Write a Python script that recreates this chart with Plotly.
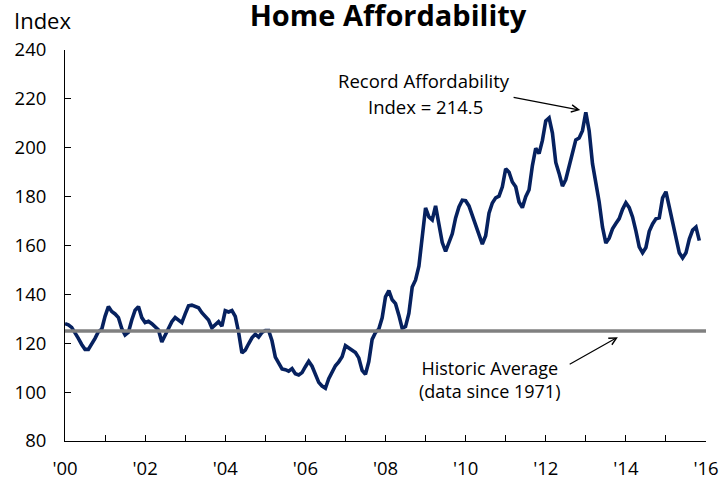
import plotly.graph_objects as go

# Monthly Home Affordability Index, Jan 2000 - Nov 2015
start_year = 2000
index_values = [
    # 2000
    128, 127.5, 126.5, 124.5, 122, 119.5, 117.5, 117.5, 119.5, 122, 124.7, 125.7,
    # 2001
    131, 135, 133, 132, 130.5, 126, 123.4, 124.5, 129.5, 133.5, 135, 130.5,
    # 2002
    128.5, 129, 128, 126.7, 125.4, 120.5, 123.5, 126.5, 128.8, 130.5, 129.5, 128.4,
    # 2003
    132, 135.3, 135.6, 135.2, 134.5, 132.5, 131, 129.5, 126.3, 127.5, 128.8, 127,
    # 2004
    133.3, 132.8, 133.4, 131, 124.5, 116, 117.2, 119.8, 122.2, 123.7, 122.5, 124.4,
    # 2005
    125.2, 125.2, 121, 114.3, 112, 109.5, 109.2, 108.6, 109.6, 107.5, 107, 108,
    # 2006
    110.4, 112.6, 110.6, 107, 104, 102.5, 101.6, 105.5, 108.3, 110.8, 112.4, 114.5,
    # 2007
    119, 118.2, 117.3, 116.2, 114, 108.9, 107.3, 112.5, 121.6, 124.4, 125.8, 130.4,
    # 2008
    139, 141.5, 137.8, 136.2, 131.5, 126.1, 126.8, 132.2, 143, 145.9, 151.5, 164.7,
    # 2009
    175.4, 171.7, 170.5, 176.2, 169.2, 161.2, 157.6, 161.5, 164.8, 171.3, 175.8, 178.5,
    # 2010
    178.3, 176.2, 172.4, 169, 165, 160.6, 164, 173.2, 177.4, 179.5, 180.2, 184,
    # 2011
    191.4, 190, 186, 184, 177.8, 175.5, 180, 182.8, 192.7, 199.8, 197.6, 203,
    # 2012
    211, 212.2, 206, 194, 189.5, 184.3, 187, 192.2, 198.7, 203.2, 204, 207,
    # 2013
    214.5, 207, 193.5, 186.5, 177.8, 167.5, 161, 163, 166.8, 169, 171, 174.8,
    # 2014
    177.5, 175.5, 171.7, 166, 159.4, 157, 159.2, 165.8, 168.8, 170.9, 171.3, 179.5,
    # 2015
    182, 175.8, 169.2, 163.3, 157, 154.9, 157, 162.6, 166.3, 167.5, 162,
]
dates = [start_year + i / 12 for i in range(len(index_values))]

historic_average = 125
x_min, x_max = 2000, 2016
year_ticks = list(range(2000, 2017))
year_labels = ["'%02d" % (y % 100) if y % 2 == 0 else "" for y in year_ticks]
y_ticks = [80, 100, 120, 140, 160, 180, 200, 220, 240]

record_value = 214.5

FONT = "Open Sans"
NAVY = "#06215f"
GRAY = "#808080"

W, H = 726, 480

fig = go.Figure()
fig.add_trace(go.Scatter(
    x=dates, y=index_values, mode="lines",
    line=dict(color=NAVY, width=3.6), hoverinfo="x+y", showlegend=False,
))
fig.add_trace(go.Scatter(
    x=[x_min, x_max], y=[historic_average, historic_average], mode="lines",
    line=dict(color=GRAY, width=3.5), showlegend=False,
))

ann_font = dict(family=FONT, size=18.5, color="black")
annotations = [
    dict(text="Record Affordability", x=2008.95, y=227.6, xref="x", yref="y",
         showarrow=False, font=ann_font, xanchor="center", yanchor="middle"),
    dict(text="Index = %.1f" % record_value, x=2009.0, y=217.0, xref="x", yref="y",
         showarrow=False, font=ann_font, xanchor="center", yanchor="middle"),
    dict(text="", x=2012.86, y=215.4, ax=2011.16, ay=220.7, xref="x", yref="y",
         axref="x", ayref="y", showarrow=True, arrowhead=5, arrowsize=1.2,
         arrowwidth=1.2, arrowcolor="black"),
    dict(text="Historic Average<br>(data since 1971)", x=2010.59, y=105.1,
         xref="x", yref="y", showarrow=False,
         font=dict(family=FONT, size=18, color="black"),
         xanchor="center", yanchor="middle", align="center"),
    dict(text="", x=2013.8, y=122.5, ax=2012.56, ay=111.1, xref="x", yref="y",
         axref="x", ayref="y", showarrow=True, arrowhead=5, arrowsize=1.2,
         arrowwidth=1.2, arrowcolor="black"),
    dict(text="Index", x=-0.083, y=1.077, xref="paper", yref="paper",
         showarrow=False, font=dict(family=FONT, size=22, color="black"),
         xanchor="left", yanchor="middle"),
]

fig.update_layout(
    width=W, height=H,
    margin=dict(l=65, r=20, t=50, b=39, autoexpand=False),
    paper_bgcolor="white", plot_bgcolor="white",
    font=dict(family=FONT, size=18.5, color="black"),
    title=dict(text="<b>Home Affordability</b>", x=388 / W, xref="container",
               xanchor="center", y=1 - 16 / H, yref="container", yanchor="middle",
               font=dict(family=FONT, size=29, color="black")),
    annotations=annotations,
    xaxis=dict(range=[x_min, x_max], tickmode="array", tickvals=year_ticks,
               ticktext=year_labels, ticks="inside", ticklen=6, tickcolor="black",
               showline=True, linecolor="black", linewidth=1, showgrid=False,
               zeroline=False, ticklabelstandoff=11, fixedrange=True,
               automargin=False),
    yaxis=dict(range=[80, 240], tickmode="array", tickvals=y_ticks,
               ticks="inside", ticklen=6, tickcolor="black",
               showline=True, linecolor="black", linewidth=1, showgrid=False,
               zeroline=False, ticklabelstandoff=14, fixedrange=True,
               automargin=False),
)

# remove the default 8px page margin so the figure fills the window
fig.write_html("out.html", config={"displayModeBar": False},
               post_script="document.body.style.margin='0';")
